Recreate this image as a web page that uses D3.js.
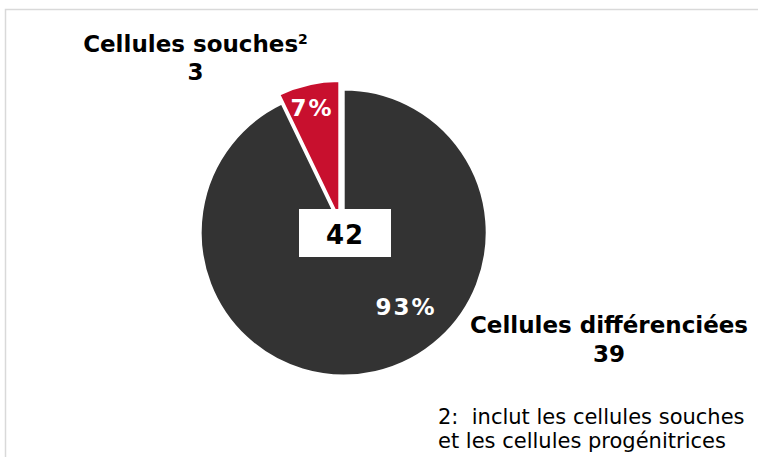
<!DOCTYPE html>
<html>
<head>
<meta charset="utf-8">
<script src="https://cdn.jsdelivr.net/npm/d3@7"></script>
<style>
  body { margin: 0; background: #fff; }
  svg { display: block; font-family: "DejaVu Sans", Verdana, sans-serif; }
</style>
</head>
<body>
<div id="chart"></div>
<script>
// chart data
const categories = ['Cellules souches', 'Cellules différenciées'];
const values = [3, 39];
const sliceColors = ['#c8102e', '#333333'];
const footnote = ['2:  inclut les cellules souches', 'et les cellules progénitrices'];

var width = 758, height = 457;
var total = d3.sum(values);

var svg = d3.select('#chart').append('svg')
  .attr('width', width)
  .attr('height', height);

// light frame around the chart area (runs off the right and bottom edge)
svg.append('rect')
  .attr('x', 5.5).attr('y', 9.5)
  .attr('width', width + 20).attr('height', height + 20)
  .attr('fill', '#fff')
  .attr('stroke', '#d9d9d9')
  .attr('stroke-width', 1.5);

// pie layout, small slice sits just left of 12 o'clock
var start = -2 * Math.PI * values[0] / total;
var pie = d3.pie().sort(null).startAngle(start).endAngle(start + 2 * Math.PI);
var slices = pie(values);

var cx = 343.7, cy = 232.5;
var radius = [138, 143];          // exploded slice is drawn a bit smaller
var explode = [[-4.4, -13.5], [0, 0]];

var g = svg.append('g').attr('transform', 'translate(' + cx + ',' + cy + ')');

g.selectAll('path')
  .data(slices)
  .enter()
  .append('path')
    .attr('transform', (d, i) => 'translate(' + explode[i][0] + ',' + explode[i][1] + ')')
    .attr('d', (d, i) => d3.arc().innerRadius(0).outerRadius(radius[i])(d))
    .attr('fill', (d, i) => sliceColors[i])
    .attr('stroke', '#fff')
    .attr('stroke-width', 2);

// percentage labels inside the slices
var pctPos = [[312, 116], [406, 315]];
svg.selectAll('text.pct')
  .data(slices)
  .enter()
  .append('text')
    .attr('class', 'pct')
    .attr('x', (d, i) => pctPos[i][0])
    .attr('y', (d, i) => pctPos[i][1])
    .attr('text-anchor', 'middle')
    .attr('fill', '#fff')
    .attr('font-weight', 'bold')
    .attr('font-size', '23px')
    .attr('letter-spacing', '2px')
    .text(d => Math.round(d.value / total * 100) + '%');

// total box in the middle
svg.append('rect')
  .attr('x', 299).attr('y', 209)
  .attr('width', 92).attr('height', 48)
  .attr('fill', '#fff');

svg.append('text')
  .attr('x', 345).attr('y', 244)
  .attr('text-anchor', 'middle')
  .attr('font-weight', 'bold')
  .attr('font-size', '26px')
  .attr('letter-spacing', '1px')
  .attr('fill', '#000')
  .text(total);

// category labels with counts
var catPos = [[195.5, 52, 80], [609, 333, 362]];
var cat = svg.selectAll('g.cat')
  .data(categories)
  .enter()
  .append('g')
    .attr('class', 'cat')
    .attr('font-weight', 'bold')
    .attr('fill', '#000')
    .attr('text-anchor', 'middle');

var catName = cat.append('text')
  .attr('x', (d, i) => catPos[i][0])
  .attr('y', (d, i) => catPos[i][1])
  .attr('font-size', '23px');
catName.append('tspan').text(d => d);
catName.filter((d, i) => i == 0)
  .append('tspan')
    .attr('font-size', '14px')
    .attr('dy', -8)
    .text('2');

cat.append('text')
  .attr('x', (d, i) => catPos[i][0])
  .attr('y', (d, i) => catPos[i][2])
  .attr('font-size', '23px')
  .text((d, i) => values[i]);

// footnote
svg.append('text')
  .attr('x', 438).attr('y', 424)
  .attr('font-size', '21px')
  .attr('fill', '#000')
  .style('white-space', 'pre')
  .selectAll('tspan')
  .data(footnote)
  .enter()
  .append('tspan')
    .attr('x', 438)
    .attr('dy', (d, i) => i ? 24 : 0)
    .text(d => d);
</script>
</body>
</html>
